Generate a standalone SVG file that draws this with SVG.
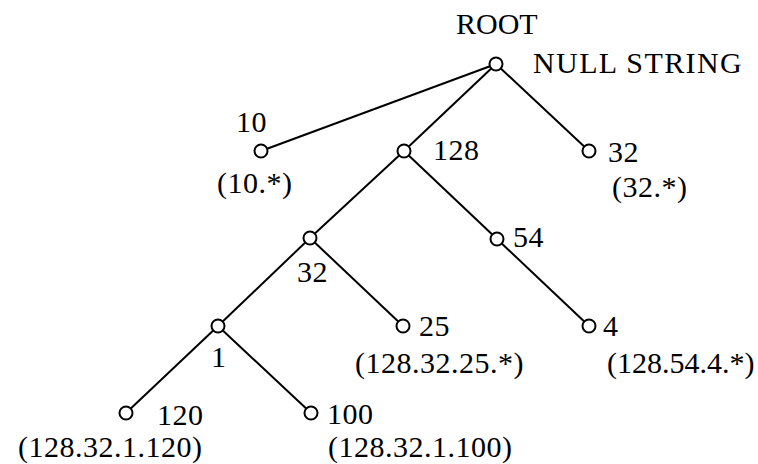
<svg xmlns="http://www.w3.org/2000/svg" width="758" height="464" viewBox="0 0 758 464">
<style>
.e{stroke:#000;stroke-width:2;fill:none}
.n{fill:#fff;stroke:#000;stroke-width:2}
text{font-family:"Liberation Serif","Times New Roman",serif;font-size:30px;fill:#000;letter-spacing:0.5px}
</style>
<rect width="758" height="464" fill="#fff"/>
<g id="connectors">
<line class="e" x1="496" y1="64" x2="261" y2="151"/>
<line class="e" x1="496" y1="64" x2="404" y2="151"/>
<line class="e" x1="496" y1="64" x2="589" y2="151"/>
<line class="e" x1="404" y1="151" x2="310" y2="238"/>
<line class="e" x1="404" y1="151" x2="497" y2="239"/>
<line class="e" x1="310" y1="238" x2="218" y2="326"/>
<line class="e" x1="310" y1="238" x2="403" y2="326"/>
<line class="e" x1="497" y1="239" x2="589" y2="326"/>
<line class="e" x1="218" y1="326" x2="126" y2="413"/>
<line class="e" x1="218" y1="326" x2="311" y2="413"/>
</g>
<g id="root"><circle class="n" cx="496" cy="64" r="6.5"/><text x="456" y="34" style="letter-spacing:0">ROOT</text><text x="533" y="73" style="letter-spacing:1.4px">NULL STRING</text></g>
<g id="n10"><circle class="n" cx="261" cy="151" r="6.5"/><text x="236" y="132">10</text><text x="217" y="193">(10.*)</text></g>
<g id="n128"><circle class="n" cx="404" cy="151" r="6.5"/><text x="433" y="160">128</text></g>
<g id="n32a"><circle class="n" cx="589" cy="151" r="6.5"/><text x="608" y="162">32</text><text x="612" y="197">(32.*)</text></g>
<g id="n32b"><circle class="n" cx="310" cy="238" r="6.5"/><text x="297" y="282">32</text></g>
<g id="n54"><circle class="n" cx="497" cy="239" r="6.5"/><text x="513" y="247">54</text></g>
<g id="n1"><circle class="n" cx="218" cy="326" r="6.5"/><text x="211" y="367">1</text></g>
<g id="n25"><circle class="n" cx="403" cy="326" r="6.5"/><text x="419" y="336">25</text><text x="355" y="373">(128.32.25.*)</text></g>
<g id="n4"><circle class="n" cx="589" cy="326" r="6.5"/><text x="603" y="336">4</text><text x="607" y="373" style="letter-spacing:0">(128.54.4.*)</text></g>
<g id="n120"><circle class="n" cx="126" cy="413" r="6.5"/><text x="157" y="425">120</text><text x="18" y="457">(128.32.1.120)</text></g>
<g id="n100"><circle class="n" cx="311" cy="413" r="6.5"/><text x="327" y="424">100</text><text x="328" y="457">(128.32.1.100)</text></g>
</svg>
